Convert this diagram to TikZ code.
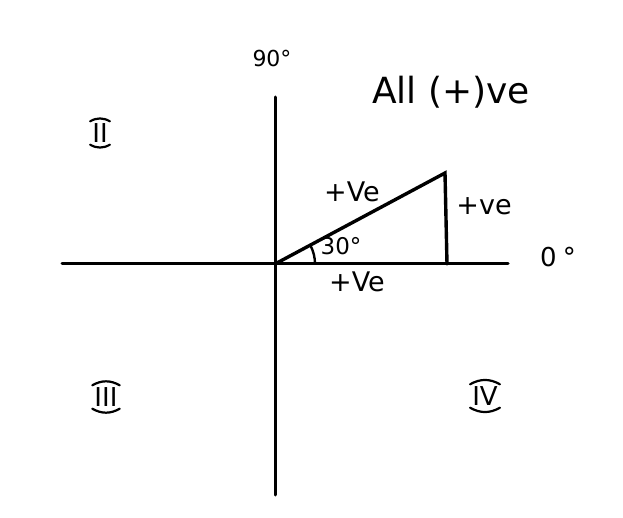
\documentclass[tikz,border=0pt]{standalone}
\usepackage{fontspec}
\setmainfont{DejaVu Sans}
\usetikzlibrary{positioning}

\begin{document}
\begin{tikzpicture}[
x=1pt,y=-1pt,
axis/.style={line width=3pt,line cap=round},
side/.style={line width=3.4pt,line cap=round},
lbl/.style={font=\fontsize{27}{30}\selectfont,inner sep=1pt},
quad/.style={font=\fontsize{26}{28}\selectfont,inner sep=2pt},
brace/.style={line width=2.2pt,line cap=round}]
\useasboundingbox[fill=white] (0,0) rectangle (623,518);
% axes
\coordinate (O) at (275,264);
\coordinate (xl) at (62,264);
\coordinate (xr) at (508,264);
\coordinate (yt) at (275,97);
\coordinate (yb) at (275,495);
\draw[axis] (xl) -- (xr);
\draw[axis] (yt) -- (yb);
% triangle
\coordinate (A) at (445,173);
\coordinate (F) at (447,264);
\draw[side] (O) -- (A) -- (F);
\draw[line width=2.4pt] ([shift={(0:40)}]O) arc[start angle=0,end angle=-28,radius=40];
% labels
\node[lbl,font=\fontsize{22}{24}\selectfont] (ninety) at (272,58) {90°};
\node[lbl,font=\fontsize{36}{38}\selectfont] (all) at (451,92) {All (+)ve};
\node[lbl] (hyp) at (352,192) {+Ve};
\node[lbl] (opp) at (484,206) {+ve};
\node[lbl,font=\fontsize{23}{25}\selectfont] (ang) at (341,246) {30°};
\node[lbl] (adj) at (357,282) {+Ve};
\node[lbl,font=\fontsize{26}{28}\selectfont] (zero) at (558,257) {0\hspace{6pt}°};
% quadrant numerals
\node[quad] (q2) at (100,133) {II};
\node[quad] (q3) at (106,397) {III};
\node[quad] (q4) at (485,396) {IV};
\foreach \q in {q2,q3,q4}{
  \draw[brace] (\q.north west) to[bend left=30] (\q.north east);
  \draw[brace] (\q.south west) to[bend right=30] (\q.south east);
}
\end{tikzpicture}
\end{document}
